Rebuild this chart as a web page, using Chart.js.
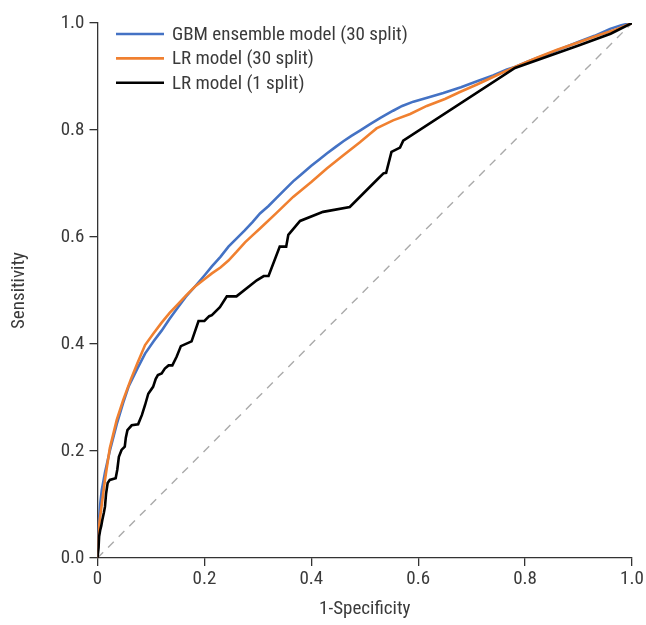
<!DOCTYPE html>
<html>
<head>
<meta charset="utf-8">
<script src="https://cdn.jsdelivr.net/npm/chart.js@4.4.1/dist/chart.umd.min.js"></script>
<style>
  html, body { margin: 0; padding: 0; background: #fff; }
  #wrap { width: 646px; height: 625px; position: relative; }
</style>
</head>
<body>
<div id="wrap"><canvas id="c" width="646" height="625"></canvas></div>
<script>
// ---- Data ----
const seriesLabels = ["GBM ensemble model (30 split)", "LR model (30 split)", "LR model (1 split)"];
const xTicks = [0, 0.2, 0.4, 0.6, 0.8, 1.0];
const yTicks = [0, 0.2, 0.4, 0.6, 0.8, 1.0];

const gbmFpr = [0, 0.002, 0.005, 0.008, 0.014, 0.023, 0.036, 0.048, 0.058, 0.075, 0.089, 0.105, 0.12, 0.135, 0.151, 0.165, 0.182, 0.2, 0.214, 0.23, 0.245, 0.26, 0.275, 0.29, 0.304, 0.32, 0.335, 0.35, 0.366, 0.38, 0.4, 0.415, 0.429, 0.445, 0.46, 0.475, 0.491, 0.51, 0.53, 0.553, 0.57, 0.591, 0.62, 0.647, 0.68, 0.71, 0.74, 0.766, 0.781, 0.81, 0.84, 0.87, 0.903, 0.93, 0.959, 0.98, 1];
const gbmTpr = [0, 0.06, 0.10, 0.127, 0.16, 0.20, 0.25, 0.29, 0.32, 0.355, 0.382, 0.405, 0.425, 0.447, 0.469, 0.488, 0.507, 0.528, 0.545, 0.563, 0.582, 0.597, 0.612, 0.628, 0.644, 0.658, 0.673, 0.688, 0.704, 0.716, 0.733, 0.745, 0.756, 0.768, 0.779, 0.789, 0.799, 0.811, 0.823, 0.836, 0.845, 0.853, 0.861, 0.869, 0.880, 0.891, 0.902, 0.913, 0.918, 0.93, 0.941, 0.953, 0.966, 0.976, 0.989, 0.996, 1];

const lr30Fpr = [0, 0.001, 0.004, 0.008, 0.014, 0.023, 0.036, 0.048, 0.062, 0.075, 0.089, 0.105, 0.12, 0.135, 0.151, 0.165, 0.182, 0.2, 0.214, 0.23, 0.245, 0.26, 0.276, 0.29, 0.304, 0.335, 0.366, 0.4, 0.429, 0.46, 0.491, 0.51, 0.522, 0.553, 0.585, 0.616, 0.65, 0.678, 0.71, 0.74, 0.781, 0.822, 0.86, 0.903, 0.94, 0.97, 1];
const lr30Tpr = [0, 0.03, 0.07, 0.10, 0.146, 0.205, 0.258, 0.295, 0.333, 0.365, 0.398, 0.42, 0.44, 0.458, 0.475, 0.49, 0.507, 0.521, 0.532, 0.543, 0.556, 0.572, 0.59, 0.603, 0.616, 0.645, 0.675, 0.703, 0.728, 0.753, 0.777, 0.793, 0.803, 0.818, 0.83, 0.845, 0.858, 0.871, 0.885, 0.899, 0.918, 0.935, 0.95, 0.965, 0.978, 0.988, 1];

const lr1Fpr = [0, 0.002, 0.003, 0.005, 0.007, 0.009, 0.012, 0.014, 0.016, 0.019, 0.023, 0.034, 0.037, 0.040, 0.045, 0.051, 0.053, 0.056, 0.064, 0.076, 0.08, 0.083, 0.089, 0.095, 0.104, 0.109, 0.113, 0.12, 0.126, 0.133, 0.14, 0.148, 0.156, 0.176, 0.189, 0.2, 0.209, 0.214, 0.229, 0.242, 0.26, 0.298, 0.311, 0.32, 0.341, 0.353, 0.357, 0.379, 0.422, 0.472, 0.522, 0.535, 0.54, 0.55, 0.566, 0.572, 0.781, 0.9, 0.96, 1];
const lr1Tpr = [0, 0.02, 0.04, 0.052, 0.06, 0.071, 0.085, 0.096, 0.12, 0.14, 0.146, 0.149, 0.165, 0.189, 0.202, 0.208, 0.225, 0.239, 0.248, 0.25, 0.26, 0.267, 0.286, 0.307, 0.32, 0.335, 0.342, 0.345, 0.354, 0.36, 0.36, 0.376, 0.396, 0.405, 0.443, 0.443, 0.452, 0.454, 0.469, 0.489, 0.489, 0.519, 0.527, 0.527, 0.582, 0.582, 0.604, 0.63, 0.647, 0.656, 0.706, 0.719, 0.72, 0.759, 0.767, 0.78, 0.916, 0.958, 0.98, 1];

const refFpr = [0, 1];
const refTpr = [0, 1];

// ---- Build chart ----
const pts = (xs, ys) => xs.map((x, i) => ({ x: x, y: ys[i] }));
const FONT = "'Roboto Condensed', 'Liberation Sans Narrow', Roboto, sans-serif";
const TXT = '#3a3a3a';

const legendPlugin = {
  id: 'insideLegend',
  afterDraw(chart) {
    const ctx = chart.ctx;
    ctx.save();
    ctx.font = '19px ' + FONT;
    ctx.textBaseline = 'middle';
    ctx.textAlign = 'left';
    seriesLabels.forEach((lab, i) => {
      const d = chart.data.datasets.find(ds => ds.label === lab);
      const y = 34 + i * 24.4;
      ctx.strokeStyle = d.borderColor;
      ctx.lineWidth = 2.6;
      ctx.beginPath();
      ctx.moveTo(116, y);
      ctx.lineTo(164, y);
      ctx.stroke();
      ctx.fillStyle = TXT;
      ctx.fillText(lab, 172, y + 1);
    });
    ctx.restore();
  }
};

new Chart(document.getElementById('c'), {
  type: 'scatter',
  data: {
    datasets: [
      { label: seriesLabels[2], data: pts(lr1Fpr, lr1Tpr), borderColor: '#000000', borderWidth: 2.6, showLine: true, pointRadius: 0, order: 0 },
      { label: seriesLabels[1], data: pts(lr30Fpr, lr30Tpr), borderColor: '#F08030', borderWidth: 2.6, showLine: true, pointRadius: 0, order: 1 },
      { label: seriesLabels[0], data: pts(gbmFpr, gbmTpr), borderColor: '#4472C4', borderWidth: 2.6, showLine: true, pointRadius: 0, order: 2 },
      { label: 'Reference', data: pts(refFpr, refTpr), borderColor: '#aaaaaa', borderWidth: 1.4, borderDash: [8, 7], showLine: true, pointRadius: 0, order: 3 }
    ]
  },
  options: {
    responsive: false,
    animation: false,
    layout: { padding: { left: 0, right: 14, top: 23, bottom: 0 } },
    plugins: { legend: { display: false }, tooltip: { enabled: false } },
    scales: {
      x: {
        type: 'linear', min: 0, max: 1,
        afterBuildTicks: s => { s.ticks = xTicks.map(v => ({ value: v })); },
        afterFit: s => { s.height = 67; },
        ticks: {
          color: TXT, font: { family: FONT, size: 19 }, padding: 2,
          callback: v => (v === 0 ? '0' : v.toFixed(1))
        },
        grid: { display: true, drawOnChartArea: false, drawTicks: true, tickLength: 8, color: '#333', lineWidth: 1.3 },
        border: { display: true, color: '#333', width: 1.3 },
        title: { display: true, text: '1-Specificity', color: TXT, font: { family: FONT, size: 19 }, padding: { top: 4, bottom: 4 } }
      },
      y: {
        type: 'linear', min: 0, max: 1,
        afterBuildTicks: s => { s.ticks = yTicks.map(v => ({ value: v })); },
        afterFit: s => { s.width = 97.5; },
        ticks: {
          color: TXT, font: { family: FONT, size: 19 }, padding: 5,
          callback: v => v.toFixed(1)
        },
        grid: { display: true, drawOnChartArea: false, drawTicks: true, tickLength: 8, color: '#333', lineWidth: 1.3 },
        border: { display: true, color: '#333', width: 1.3 },
        title: { display: true, text: 'Sensitivity', color: TXT, font: { family: FONT, size: 19 }, padding: { top: 8, bottom: 8 } }
      }
    }
  },
  plugins: [legendPlugin]
});
</script>
</body>
</html>
